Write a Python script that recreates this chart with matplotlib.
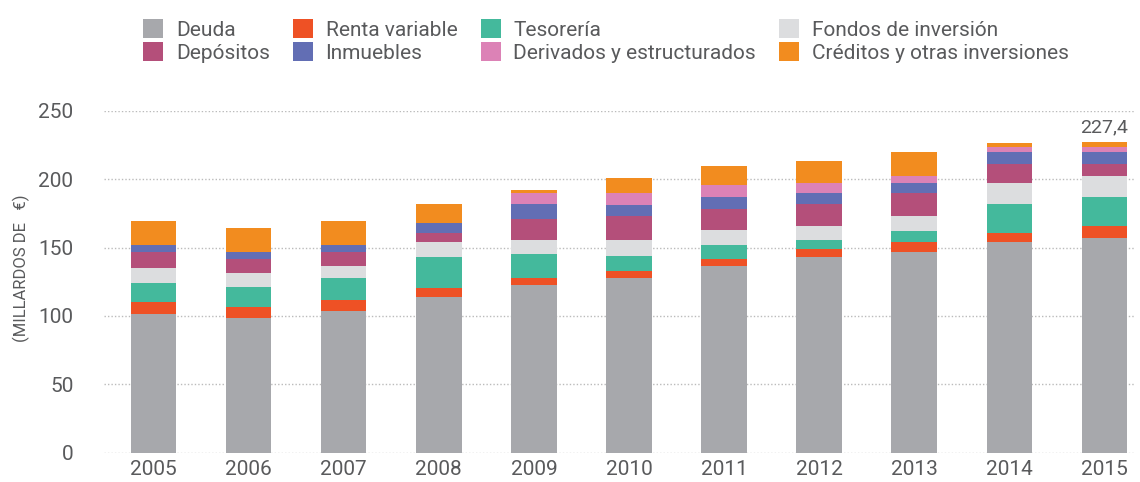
import matplotlib
matplotlib.use("Agg")
import matplotlib.pyplot as plt
import numpy as np

years = ["2005", "2006", "2007", "2008", "2009", "2010", "2011", "2012", "2013", "2014", "2015"]
deuda = [101.4, 98.5, 103.6, 113.8, 122.6, 127.7, 136.5, 143.1, 146.5, 153.8, 157.0]
renta = [9.0, 8.0, 8.0, 6.8, 5.1, 5.2, 5.1, 5.8, 7.3, 6.8, 8.8]
tesoreria = [13.6, 14.6, 16.1, 22.3, 17.6, 10.9, 10.2, 6.6, 8.3, 21.2, 21.2]
fondos = [11.0, 10.3, 8.8, 10.9, 10.2, 11.7, 11.0, 10.2, 10.9, 15.3, 15.4]
depositos = [11.7, 10.2, 10.2, 6.7, 15.3, 17.8, 15.3, 16.1, 16.8, 14.2, 9.0]
inmuebles = [5.1, 5.1, 5.1, 7.3, 11.0, 7.7, 8.8, 8.0, 7.3, 8.5, 8.5]
derivados = [0, 0, 0, 0, 7.8, 8.8, 8.8, 7.1, 5.3, 3.7, 3.7]
creditos = [17.6, 17.6, 17.6, 13.9, 2.3, 11.0, 13.9, 16.3, 17.3, 2.9, 3.8]

series_names = ["Deuda", "Renta variable", "Tesorería", "Fondos de inversión",
                "Depósitos", "Inmuebles", "Derivados y estructurados",
                "Créditos y otras inversiones"]
series_values = [deuda, renta, tesoreria, fondos, depositos, inmuebles, derivados, creditos]
colors = ["#A7A8AC", "#EE5125", "#44B99C", "#DCDDDF",
          "#B44F7A", "#626EB4", "#DC82B6", "#F28C1F"]

y_ticks = [0, 50, 100, 150, 200, 250]
ylabel = "(MILLARDOS DE   €)"
label_year = "2015"

plt.rcParams['font.family'] = ['Roboto', 'DejaVu Sans']
txt_color = "#595A5C"

fig = plt.figure(figsize=(11.4, 4.82), dpi=100)
ax = fig.add_axes([0.0912, 0.0608, 0.9044, 0.7095])

x = np.arange(len(years))
bottom = np.zeros(len(years))
handles = []
for name, vals, c in zip(series_names, series_values, colors):
    v = np.array(vals, dtype=float)
    b = ax.bar(x, v, bottom=bottom, width=0.48, color=c, label=name, zorder=3, linewidth=0)
    handles.append(b)
    bottom += v

# total label
idx = years.index(label_year)
ax.text(x[idx], bottom[idx] + 4, f"{bottom[idx]:.1f}".replace(".", ","),
        ha="center", va="bottom", fontsize=14, color=txt_color)

ax.set_xlim(-0.52, 10.32)
ax.set_ylim(0, 250)
ax.set_yticks(y_ticks)
ax.set_xticks(x)
ax.set_xticklabels(years)
ax.yaxis.grid(True, linestyle=(0, (1, 1.5)), color="#BBBBBB", linewidth=1, zorder=0)
ax.set_axisbelow(True)
for s in ax.spines.values():
    s.set_visible(False)
ax.tick_params(axis="both", length=0, labelsize=15, colors=txt_color)
ax.tick_params(axis="y", pad=22)
ax.tick_params(axis="x", pad=5)
ax.set_ylabel(ylabel, fontsize=12, color=txt_color)
ax.yaxis.set_label_coords(-0.072, 0.54)

order = [0, 4, 1, 5, 2, 6, 3, 7]
leg = fig.legend([handles[i] for i in order], [series_names[i] for i in order],
                 ncol=4, loc="upper left", bbox_to_anchor=(0.113, 0.99),
                 frameon=False, fontsize=15, handlelength=0.96, handleheight=1.0,
                 handletextpad=0.6, columnspacing=1.12, labelspacing=0.12,
                 borderaxespad=0.3)
for t in leg.get_texts():
    t.set_color(txt_color)

fig.savefig("out.png", dpi=100)
